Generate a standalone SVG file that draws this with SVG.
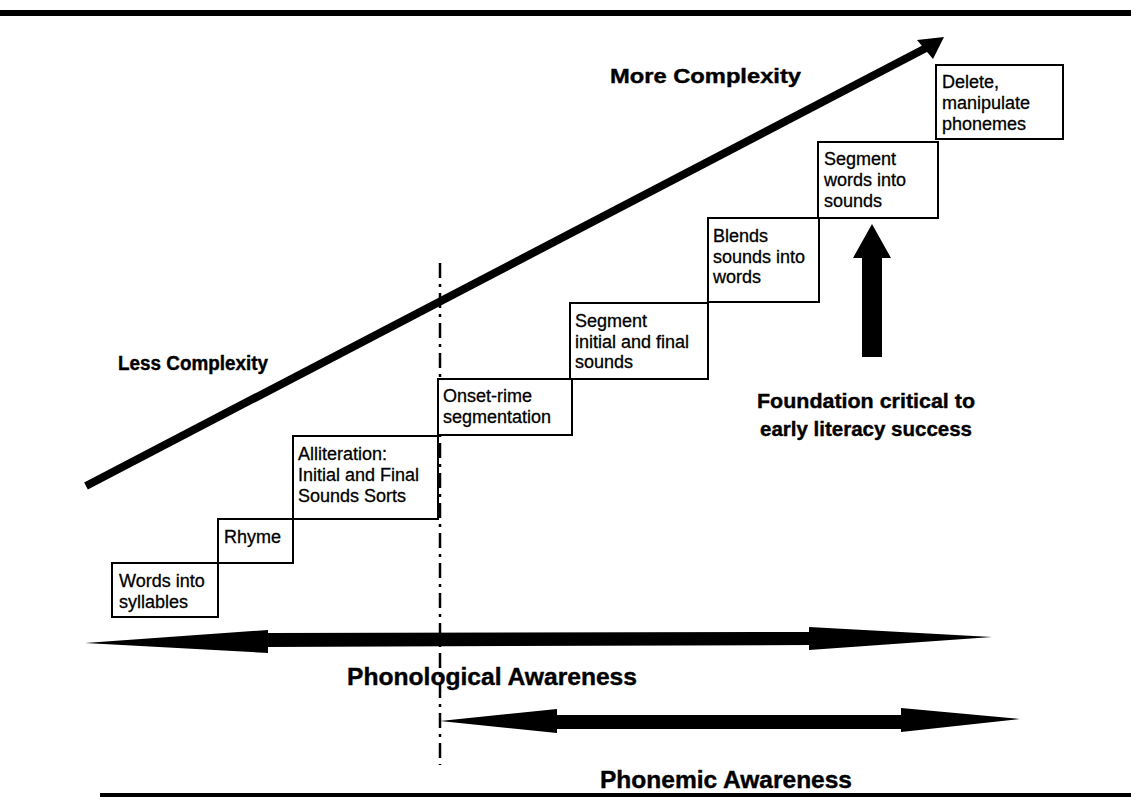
<svg xmlns="http://www.w3.org/2000/svg" width="1131" height="812" viewBox="0 0 1131 812">
<style>
.box{fill:#fff;stroke:#000;stroke-width:2}
.bt{font-family:"Liberation Sans",Arial,sans-serif;font-size:18px;fill:#000;stroke:#000;stroke-width:0.3}
.lb{font-family:"Liberation Sans",Arial,sans-serif;font-weight:bold;fill:#000;stroke:#000;stroke-width:0.4}
</style>
<rect width="1131" height="812" fill="#fff"/>
<g id="frame">
<rect x="0" y="10" width="1131" height="6" fill="#000"/>
<rect x="100" y="793" width="1031" height="4" fill="#000"/>
</g>
<g id="connectors">
<line x1="86" y1="486" x2="926" y2="48" stroke="#000" stroke-width="8"/>
<polygon points="944,37 917,40 933,59" fill="#000"/>
<line x1="440" y1="263" x2="440" y2="765" stroke="#000" stroke-width="2.5" stroke-dasharray="15 6 3 6"/>
<polygon points="85,643 268,630 268,633 809,632 809,627 992,637 809,650 809,645 268,647 268,653" fill="#000"/>
<polygon points="440,721 557,709 557,715 901,715 901,708 1020,719 901,732 901,729 557,729 557,733" fill="#000"/>
<polygon points="872,224 891,258 882,258 882,357 862,357 862,258 853,258" fill="#000"/>
</g>
<g id="n1"><rect class="box" x="112" y="563" width="106" height="54"/><text class="bt" x="119" y="587">Words into</text><text class="bt" x="119" y="608">syllables</text></g>
<g id="n2"><rect class="box" x="218" y="519" width="75" height="44"/><text class="bt" x="224" y="543">Rhyme</text></g>
<g id="n3"><rect class="box" x="293" y="436" width="145" height="83"/><text class="bt" x="298" y="460">Alliteration:</text><text class="bt" x="298" y="481">Initial and Final</text><text class="bt" x="298" y="502">Sounds Sorts</text></g>
<g id="n4"><rect class="box" x="438" y="379" width="134" height="56"/><text class="bt" x="443" y="402">Onset-rime</text><text class="bt" x="443" y="423">segmentation</text></g>
<g id="n5"><rect class="box" x="570" y="303" width="138" height="76"/><text class="bt" x="575" y="327">Segment</text><text class="bt" x="575" y="348">initial and final</text><text class="bt" x="575" y="368">sounds</text></g>
<g id="n6"><rect class="box" x="708" y="218" width="111" height="84"/><text class="bt" x="713" y="242">Blends</text><text class="bt" x="713" y="263">sounds into</text><text class="bt" x="713" y="283">words</text></g>
<g id="n7"><rect class="box" x="818" y="142" width="120" height="76"/><text class="bt" x="824" y="165">Segment</text><text class="bt" x="824" y="186">words into</text><text class="bt" x="824" y="207">sounds</text></g>
<g id="n8"><rect class="box" x="936" y="65" width="127" height="74"/><text class="bt" x="942" y="88">Delete,</text><text class="bt" x="942" y="109">manipulate</text><text class="bt" x="942" y="130">phonemes</text></g>
<g id="labels">
<text class="lb" x="610" y="83" font-size="20" textLength="191" lengthAdjust="spacingAndGlyphs">More Complexity</text>
<text class="lb" x="118" y="370" font-size="20" textLength="150" lengthAdjust="spacingAndGlyphs">Less Complexity</text>
<text class="lb" x="866" y="408" font-size="21" text-anchor="middle" textLength="218" lengthAdjust="spacingAndGlyphs">Foundation critical to</text>
<text class="lb" x="866" y="436" font-size="21" text-anchor="middle" textLength="212" lengthAdjust="spacingAndGlyphs">early literacy success</text>
<text class="lb" x="347" y="685" font-size="24" textLength="290" lengthAdjust="spacingAndGlyphs">Phonological Awareness</text>
<text class="lb" x="600" y="788" font-size="24" textLength="252" lengthAdjust="spacingAndGlyphs">Phonemic Awareness</text>
</g>
</svg>
